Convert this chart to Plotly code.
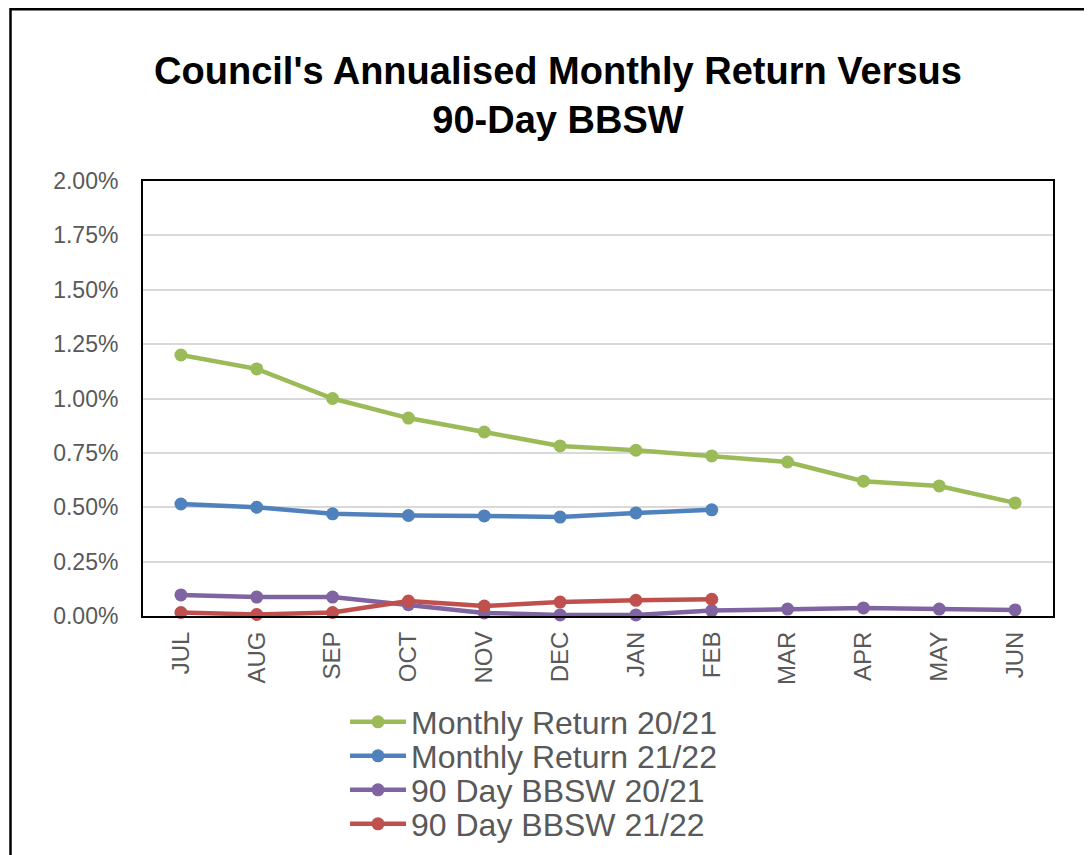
import plotly.graph_objects as go

months = ["JUL", "AUG", "SEP", "OCT", "NOV", "DEC", "JAN", "FEB", "MAR", "APR", "MAY", "JUN"]
monthly_return_2021 = [1.20, 1.136, 1.00, 0.91, 0.846, 0.782, 0.762, 0.736, 0.708, 0.620, 0.598, 0.520]
monthly_return_2122 = [0.515, 0.500, 0.470, 0.462, 0.460, 0.455, 0.474, 0.488]
bbsw_2021 = [0.097, 0.087, 0.087, 0.052, 0.014, 0.005, 0.005, 0.025, 0.032, 0.037, 0.032, 0.028]
bbsw_2122 = [0.016, 0.007, 0.016, 0.069, 0.046, 0.064, 0.072, 0.077]
y_ticks = [0, 0.25, 0.5, 0.75, 1.0, 1.25, 1.5, 1.75, 2.0]
y_tick_labels = ["0.00%", "0.25%", "0.50%", "0.75%", "1.00%", "1.25%", "1.50%", "1.75%", "2.00%"]

series = [
    ("Monthly Return 20/21", monthly_return_2021, "#9BBB59"),
    ("Monthly Return 21/22", monthly_return_2122, "#4F81BD"),
    ("90 Day BBSW 20/21", bbsw_2021, "#8064A2"),
    ("90 Day BBSW 21/22", bbsw_2122, "#C0504D"),
]

# page body has an 8px margin; work in figure pixels = reference pixels - 8
OFF = 8
W, H = 1092 - OFF, 900
L, R, T, B = 143 - OFF, 1053 - OFF, 181 - OFF, 616 - OFF

def px_x(p):
    return (p - OFF - L) / (R - L)

def px_y(p):
    return (B - (p - OFF)) / (B - T)

legend_names = ["legend", "legend2", "legend3", "legend4"]
legend_rows = [722, 756, 790, 824]

fig = go.Figure()
for (name, vals, color), lg in zip(series, legend_names):
    fig.add_trace(go.Scatter(
        x=months[:len(vals)], y=vals, name=name, mode="lines+markers",
        line=dict(color=color, width=4.5),
        marker=dict(color=color, size=13),
        cliponaxis=False, legend=lg,
    ))

legend_layout = {}
for lg, row in zip(legend_names, legend_rows):
    legend_layout[lg] = dict(
        x=px_x(345), y=px_y(row), xanchor="left", yanchor="middle",
        font=dict(size=32, color="#595959", family="Liberation Sans, Arial, sans-serif"),
        bgcolor="rgba(0,0,0,0)", itemwidth=56,
    )

fig.update_layout(
    width=W, height=H,
    margin=dict(l=L, r=W - R, t=T, b=H - B),
    paper_bgcolor="white", plot_bgcolor="white",
    font=dict(family="Liberation Sans, Arial, sans-serif", color="#595959"),
    title=dict(
        text="Council's Annualised Monthly Return Versus<br>90-Day BBSW",
        font=dict(size=38, color="black", family="Liberation Sans, Arial, sans-serif", weight="bold"),
        x=(558 - OFF) / W, xref="container", xanchor="center",
        y=1 - 76 / H, yref="container", yanchor="top",
    ),
    xaxis=dict(
        type="category", categoryorder="array", categoryarray=months,
        range=[-0.5, 11.5], tickangle=-90,
        tickfont=dict(size=24, color="#595959"),
        showline=True, linecolor="black", linewidth=2, mirror=True,
        showgrid=False, ticks="", ticklen=0, ticklabelstandoff=4,
    ),
    yaxis=dict(
        range=[0, 2.0], tickvals=y_ticks, ticktext=y_tick_labels,
        tickfont=dict(size=23, color="#595959"),
        showline=True, linecolor="black", linewidth=2, mirror=True,
        showgrid=True, gridcolor="#D9D9D9", gridwidth=1.5,
        zeroline=False, ticks="", ticklen=0, ticklabelstandoff=18,
    ),
    showlegend=True,
    **legend_layout,
)

fig.add_shape(
    type="rect", xref="paper", yref="paper",
    x0=px_x(10.5), x1=px_x(1120), y0=(B - 1.2) / (B - T), y1=px_y(950),
    line=dict(color="black", width=2.5), fillcolor="rgba(0,0,0,0)", layer="below",
)

fig.write_html("out.html")
